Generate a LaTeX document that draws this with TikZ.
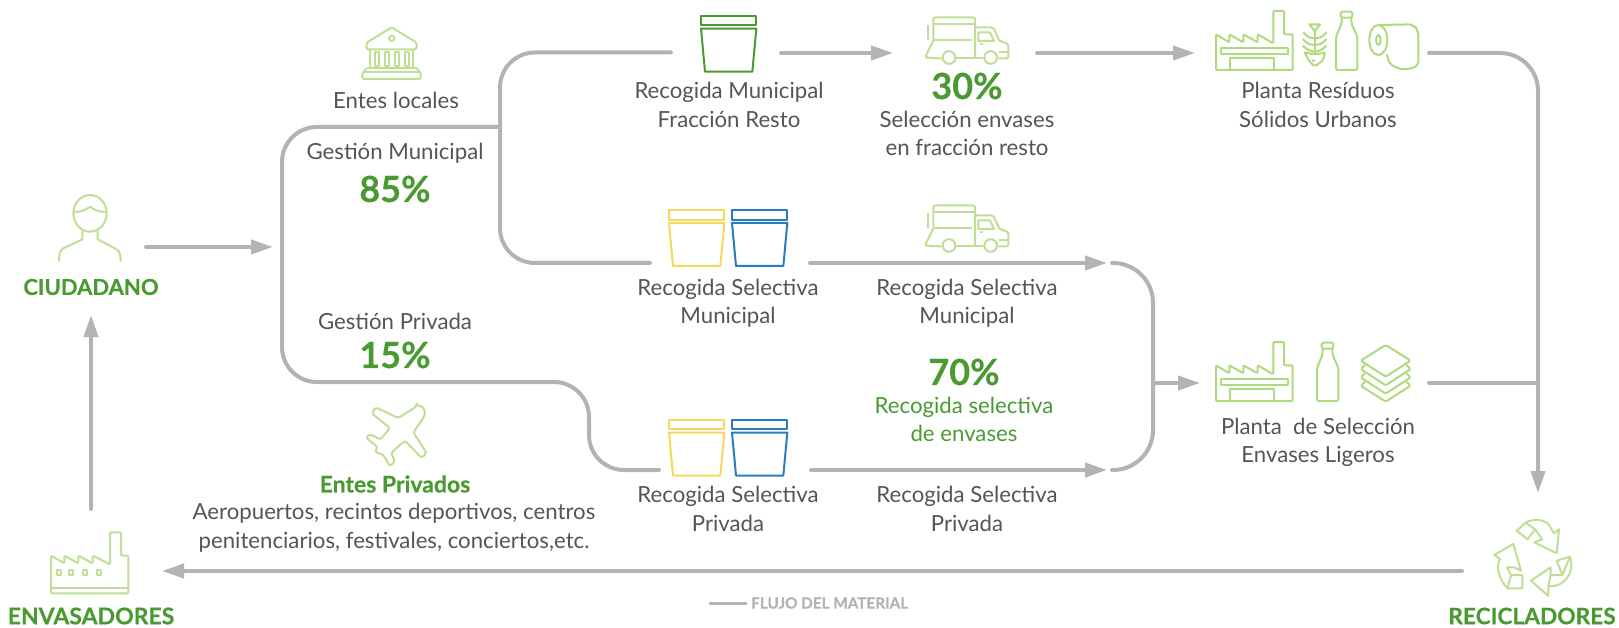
\documentclass[tikz,border=0pt]{standalone}
\usepackage{fontspec}
\setmainfont{Lato}[BoldFeatures={FakeBold=0.4}]
\usetikzlibrary{arrows.meta}
\definecolor{flowgrey}{HTML}{B3B3B3}
\definecolor{txtgrey}{HTML}{555555}
\definecolor{dgreen}{HTML}{4A9A32}
\definecolor{lgreen}{HTML}{BFDF96}
\definecolor{pgreen}{HTML}{AEDB7E}
\definecolor{byellow}{HTML}{F5D95C}
\definecolor{bblue}{HTML}{2A7DBB}
\tikzset{
  flow/.style={draw=flowgrey,line width=4pt,line cap=round},
  flowa/.style={flow,-{Triangle[length=22pt,width=14pt]}},
  third/.style={scale=1/3},
  icon/.style={line width=2pt,line join=round},
  licon/.style={icon,draw=lgreen},
  picon/.style={icon,draw=pgreen},
  txt/.style={text=txtgrey,align=center,font=\fontsize{22.2}{28.5}\selectfont,inner sep=0pt},
  gtxt/.style={text=dgreen,align=center,font=\fontsize{22.2}{28.5}\selectfont,inner sep=0pt},
  boldlab/.style={text=dgreen,align=center,font=\bfseries\fontsize{22}{26}\selectfont,inner sep=0pt},
  pct/.style={text=dgreen,font=\bfseries\fontsize{36}{38}\selectfont,inner sep=0pt},
  pics/bin/.style={code={
    \draw[icon,#1] (0,0) rectangle (166,29);
    \draw[icon,#1] (0,39) -- (166,39) -- (154,168) -- (12,168) -- cycle;
  }},
  pics/truck/.style={code={
    \draw[licon,rounded corners=1.5pt] (25,68) -- (25,3) -- (150,3) -- (150,125);
    \draw[licon] (25,23) -- (150,23);
    \draw[licon] (10,26) -- (10,72) (25,70) -- (140,70);
    \draw[licon,rounded corners=1.5pt] (25,72) -- (0,123) -- (50,126);
    \draw[licon] (92,126) -- (175,126);
    \draw[licon,rounded corners=1.5pt] (150,33) -- (205,33) -- (223,73) -- (250,83) -- (250,126) -- (220,126);
    \draw[licon] (160,48) -- (195,48) -- (207,73) -- (160,73) -- cycle;
    \draw[licon] (165,84) -- (175,84) (223,106) -- (250,106);
    \draw[licon] (72,123) circle[radius=19];
    \draw[licon] (197,123) circle[radius=19];
  }},
  pics/factory/.style={code={
    \draw[picon,rounded corners=1pt] (18,195) -- (18,88) -- (58,112) -- (58,88) -- (100,112) -- (100,88) -- (143,112) -- (143,88) -- (190,115) -- (190,18) -- (222,18) -- (222,88) -- (248,88) -- (248,195) -- cycle;
    \draw[picon] (32,130) rectangle (233,147);
    \draw[picon] (60,195) -- (60,160) -- (192,160) -- (192,195);
  }},
  pics/bottle/.style={code={
    \draw[picon,rounded corners=1.5pt] (392,20) rectangle (427,38);
    \draw[picon,rounded corners=2pt] (395,38) -- (395,55) -- (378,95) -- (378,195) -- (442,195) -- (442,95) -- (424,55) -- (424,38);
  }},
  pics/fish/.style={code={
    \draw[picon] (298,58) -- (330,58) -- (314,78) -- cycle;
    \draw[picon] (314,78) -- (314,140);
    \draw[picon] (280,82) .. controls (295,98) .. (314,100) .. controls (333,98) .. (350,82);
    \draw[picon] (278,102) .. controls (295,118) .. (314,120) .. controls (333,118) .. (350,102);
    \draw[picon] (278,122) .. controls (295,136) .. (314,140) .. controls (333,136) .. (350,122);
    \draw[picon,rounded corners=2pt] (283,140) .. controls (300,148) and (330,148) .. (345,140) -- (340,165) -- (314,185) -- (295,165) -- cycle;
    \fill[pgreen] (310,167) circle[radius=5];
  }},
  pics/roll/.style={code={
    \draw[picon] (505,105) ellipse[x radius=27,y radius=45];
    \draw[picon] (505,105) ellipse[x radius=7,y radius=15];
    \draw[picon,rounded corners=5pt] (510,60) -- (610,58) -- (625,78) -- (625,185) -- (580,195) -- (540,180) -- (530,148);
  }},
  pics/layers/.style={code={
    \draw[picon,rounded corners=1.5pt] (857,75) -- (932,122) -- (857,170) -- (782,122) -- cycle;
    \draw[picon,rounded corners=1.5pt] (795,135) -- (782,147) -- (857,196) -- (932,147) -- (919,135);
    \draw[picon,rounded corners=1.5pt] (795,160) -- (782,172) -- (857,221) -- (932,172) -- (919,160);
    \draw[picon,rounded corners=1.5pt] (795,185) -- (782,197) -- (857,245) -- (932,197) -- (919,185);
  }}
}
\begin{document}
\begin{tikzpicture}[x=1pt,y=-1pt]
\useasboundingbox (0,0) rectangle (1619,628);
\fill[white] (0,0) rectangle (1619,628);

% connector end points
\coordinate (citEnd) at (146,247);
\coordinate (gestIn) at (273,247);
\coordinate (topJoin) at (500,127);
\coordinate (mixOut) at (671,52.5);
\coordinate (mixIn) at (781,53);
\coordinate (truckIn) at (893,53);
\coordinate (truckOut) at (1037,53);
\coordinate (rsuIn) at (1195,53);
\coordinate (rsuOut) at (1429,53);
\coordinate (recIn) at (1538,493);
\coordinate (selOut) at (650,263);
\coordinate (selA) at (810,263);
\coordinate (selB) at (1107,263);
\coordinate (privOut) at (659,470);
\coordinate (privA) at (811,470);
\coordinate (privB) at (1107,470);
\coordinate (brTop) at (1112,263);
\coordinate (brBot) at (1112,470);
\coordinate (brMid) at (1153,383);
\coordinate (envIn) at (1200,383);
\coordinate (envOut) at (1429,383);
\coordinate (envJoin) at (1538,383);
\coordinate (recOut) at (1462,571);
\coordinate (pkgIn) at (162,571);
\coordinate (pkgOut) at (91,509);
\coordinate (citIn) at (91,315);
\coordinate (legA) at (710,603);
\coordinate (legB) at (746,603);

% connectors
\draw[flowa] (citEnd) -- (gestIn);
\draw[flow,rounded corners=35pt] (topJoin) -- (282,127) -- (282,382) -- (589,382) -- (589,470) -- (privOut);
\draw[flow,rounded corners=35pt] (mixOut) -- (500,52.5) -- (500,263) -- (selOut);
\draw[flowa] (mixIn) -- (truckIn);
\draw[flowa] (truckOut) -- (rsuIn);
\draw[flowa,rounded corners=38pt] (rsuOut) -- (1538,53) -- (recIn);
\draw[flowa] (selA) -- (selB);
\draw[flowa] (privA) -- (privB);
\draw[flow,rounded corners=40pt] (brTop) -- (1153,263) -- (1153,470) -- (brBot);
\draw[flowa] (brMid) -- (envIn);
\draw[flow] (envOut) -- (envJoin);
\draw[flowa] (recOut) -- (pkgIn);
\draw[flowa] (pkgOut) -- (citIn);
\draw[flow,line width=3pt] (legA) -- (legB);

% bins
\pic[third] at (701,15.7) {bin=dgreen};
\pic[third] at (669,210) {bin=byellow};
\pic[third] at (732,210) {bin=bblue};
\pic[third] at (669,419.5) {bin=byellow};
\pic[third] at (732,419.5) {bin=bblue};

% trucks
\pic[third] at (925,16.5) {truck};
\pic[third] at (925,204.5) {truck};

% plants
\pic[third] at (1210,5) {factory};
\pic[third] at (1210,5) {fish};
\pic[third] at (1210,5) {bottle};
\pic[third] at (1210,5) {roll};
\pic[third] at (1210,336) {factory};
\pic[third] at (1191,336) {bottle};
\pic[third] at (1100,320) {layers};

% person
\begin{scope}[third]
\draw[licon] (270,640) ellipse[x radius=50,y radius=55];
\draw[licon] (222,635) .. controls (240,638) and (258,630) .. (270,620) .. controls (282,630) and (300,638) .. (319,635);
\draw[licon] (247,692) -- (247,718) -- (190,745) .. controls (180,752) and (177,760) .. (177,785);
\draw[licon] (293,692) -- (293,718) -- (345,745) .. controls (358,752) and (362,760) .. (362,785);
\end{scope}

% bank
\begin{scope}[third]
\draw[licon,rounded corners=1.5pt] (1100,128) -- (1175,82) -- (1250,128) -- (1250,148) -- (1100,148) -- cycle;
\draw[licon] (1175,115) circle[radius=8];
\draw[licon] (1110,148) -- (1110,205) (1240,148) -- (1240,205) (1100,205) -- (1250,205);
\foreach \cx in {1130,1160,1190,1220}{\draw[licon] (\cx-6,156) rectangle (\cx+6,197);}
\draw[licon,rounded corners=2pt] (1087,216) rectangle (1262,237);
\draw[licon] (1100,205) -- (1090,216) (1250,205) -- (1260,216);
\end{scope}

% plane
\begin{scope}[shift={(355,398)},third]
\draw[licon,rounded corners=2.5pt] (185,25) -- (130,60) -- (62,28) -- (50,46) -- (105,90) -- (76,125) -- (45,108) -- (33,120) -- (68,146) -- (60,162) -- (85,170) -- (105,205) -- (120,190) -- (108,165) -- (150,128) -- (200,180) -- (215,165) -- (175,103) -- (208,55) .. controls (212,35) and (200,22) .. (185,25) -- cycle;
\end{scope}

% packers' factory
\begin{scope}[shift={(45,525)},third]
\draw[licon,rounded corners=1pt] (18,205) -- (18,92) -- (58,115) -- (58,92) -- (100,115) -- (100,92) -- (143,115) -- (143,92) -- (195,118) -- (195,22) -- (228,22) -- (228,92) -- (250,92) -- (250,205) -- cycle;
\draw[licon] (18,188) -- (250,188);
\foreach \cx in {42,78,120,162}{\draw[licon] (\cx-7,136) rectangle (\cx+7,150);}
\end{scope}

% recycling
\begin{scope}[shift={(1485,510)},third]
\draw[licon] (95,62) -- (122,38) .. controls (145,25) and (175,28) .. (190,42) -- (207,70) -- (222,58) -- (215,130) -- (148,97) -- (172,88) -- (150,58) -- (128,88) -- cycle;
\draw[licon] (122,38) -- (150,58);
\draw[licon] (85,102) -- (28,135) -- (45,147) .. controls (30,170) and (45,215) .. (68,235) -- (112,235) -- (112,195) -- (78,195) -- (66,172) -- (88,172) -- (108,182) -- cycle;
\draw[licon] (68,235) -- (78,195);
\draw[licon] (138,212) -- (197,172) -- (197,195) -- (232,195) -- (215,152) -- (255,140) .. controls (268,175) and (250,222) .. (205,228) -- (190,228) -- (190,258) -- cycle;
\draw[licon] (197,195) -- (190,228) (232,195) -- (255,140);
\end{scope}

% labels
\node[boldlab] (cit) at (91,287) {CIUDADANO};
\node[boldlab,font=\bfseries\fontsize{23}{26}\selectfont] (env) at (91,616) {ENVASADORES};
\node[boldlab,font=\bfseries\fontsize{22.7}{26}\selectfont] (rec) at (1532,616) {RECICLADORES};
\node[txt] (loc) at (396,100) {Entes locales};
\node[txt] (gm) at (395,153) {Gestión Municipal};
\node[pct] (p85) at (395,189) {85\%};
\node[txt] (gp) at (395,321) {Gestión Privada};
\node[pct] (p15) at (395,355) {15\%};
\node[boldlab,font=\bfseries\fontsize{23}{26}\selectfont] (priv) at (395,484) {Entes Privados};
\node[txt] (privd) at (394,527.5) {Aeropuertos, recintos deportivos, centros\\penitenciarios, festivales, conciertos,etc.};
\node[txt] (rm) at (729,105) {Recogida Municipal\\Fracción Resto};
\node[pct] (p30) at (967,86) {30\%};
\node[txt] (se) at (967,133.5) {Selección envases\\en fracción resto};
\node[txt] (rsu) at (1318,105) {Planta Resíduos\\Sólidos Urbanos};
\node[txt] (rsm) at (728,303) {Recogida Selectiva\\Municipal};
\node[txt] (rsm2) at (967,303) {Recogida Selectiva\\Municipal};
\node[pct] (p70) at (964,372) {70\%};
\node[gtxt] (rse) at (964,419.5) {Recogida selectiva\\de envases};
\node[txt] (rsp) at (728,509) {Recogida Selectiva\\Privada};
\node[txt] (rsp2) at (967,509) {Recogida Selectiva\\Privada};
\node[txt] (pse) at (1318,442.5) {Planta\ \ de Selección\\Envases Ligeros};
\node[text=flowgrey,font=\bfseries\fontsize{15.3}{17}\selectfont,anchor=west,inner sep=0pt] (leg) at (751,603) {FLUJO DEL MATERIAL};
\end{tikzpicture}
\end{document}
